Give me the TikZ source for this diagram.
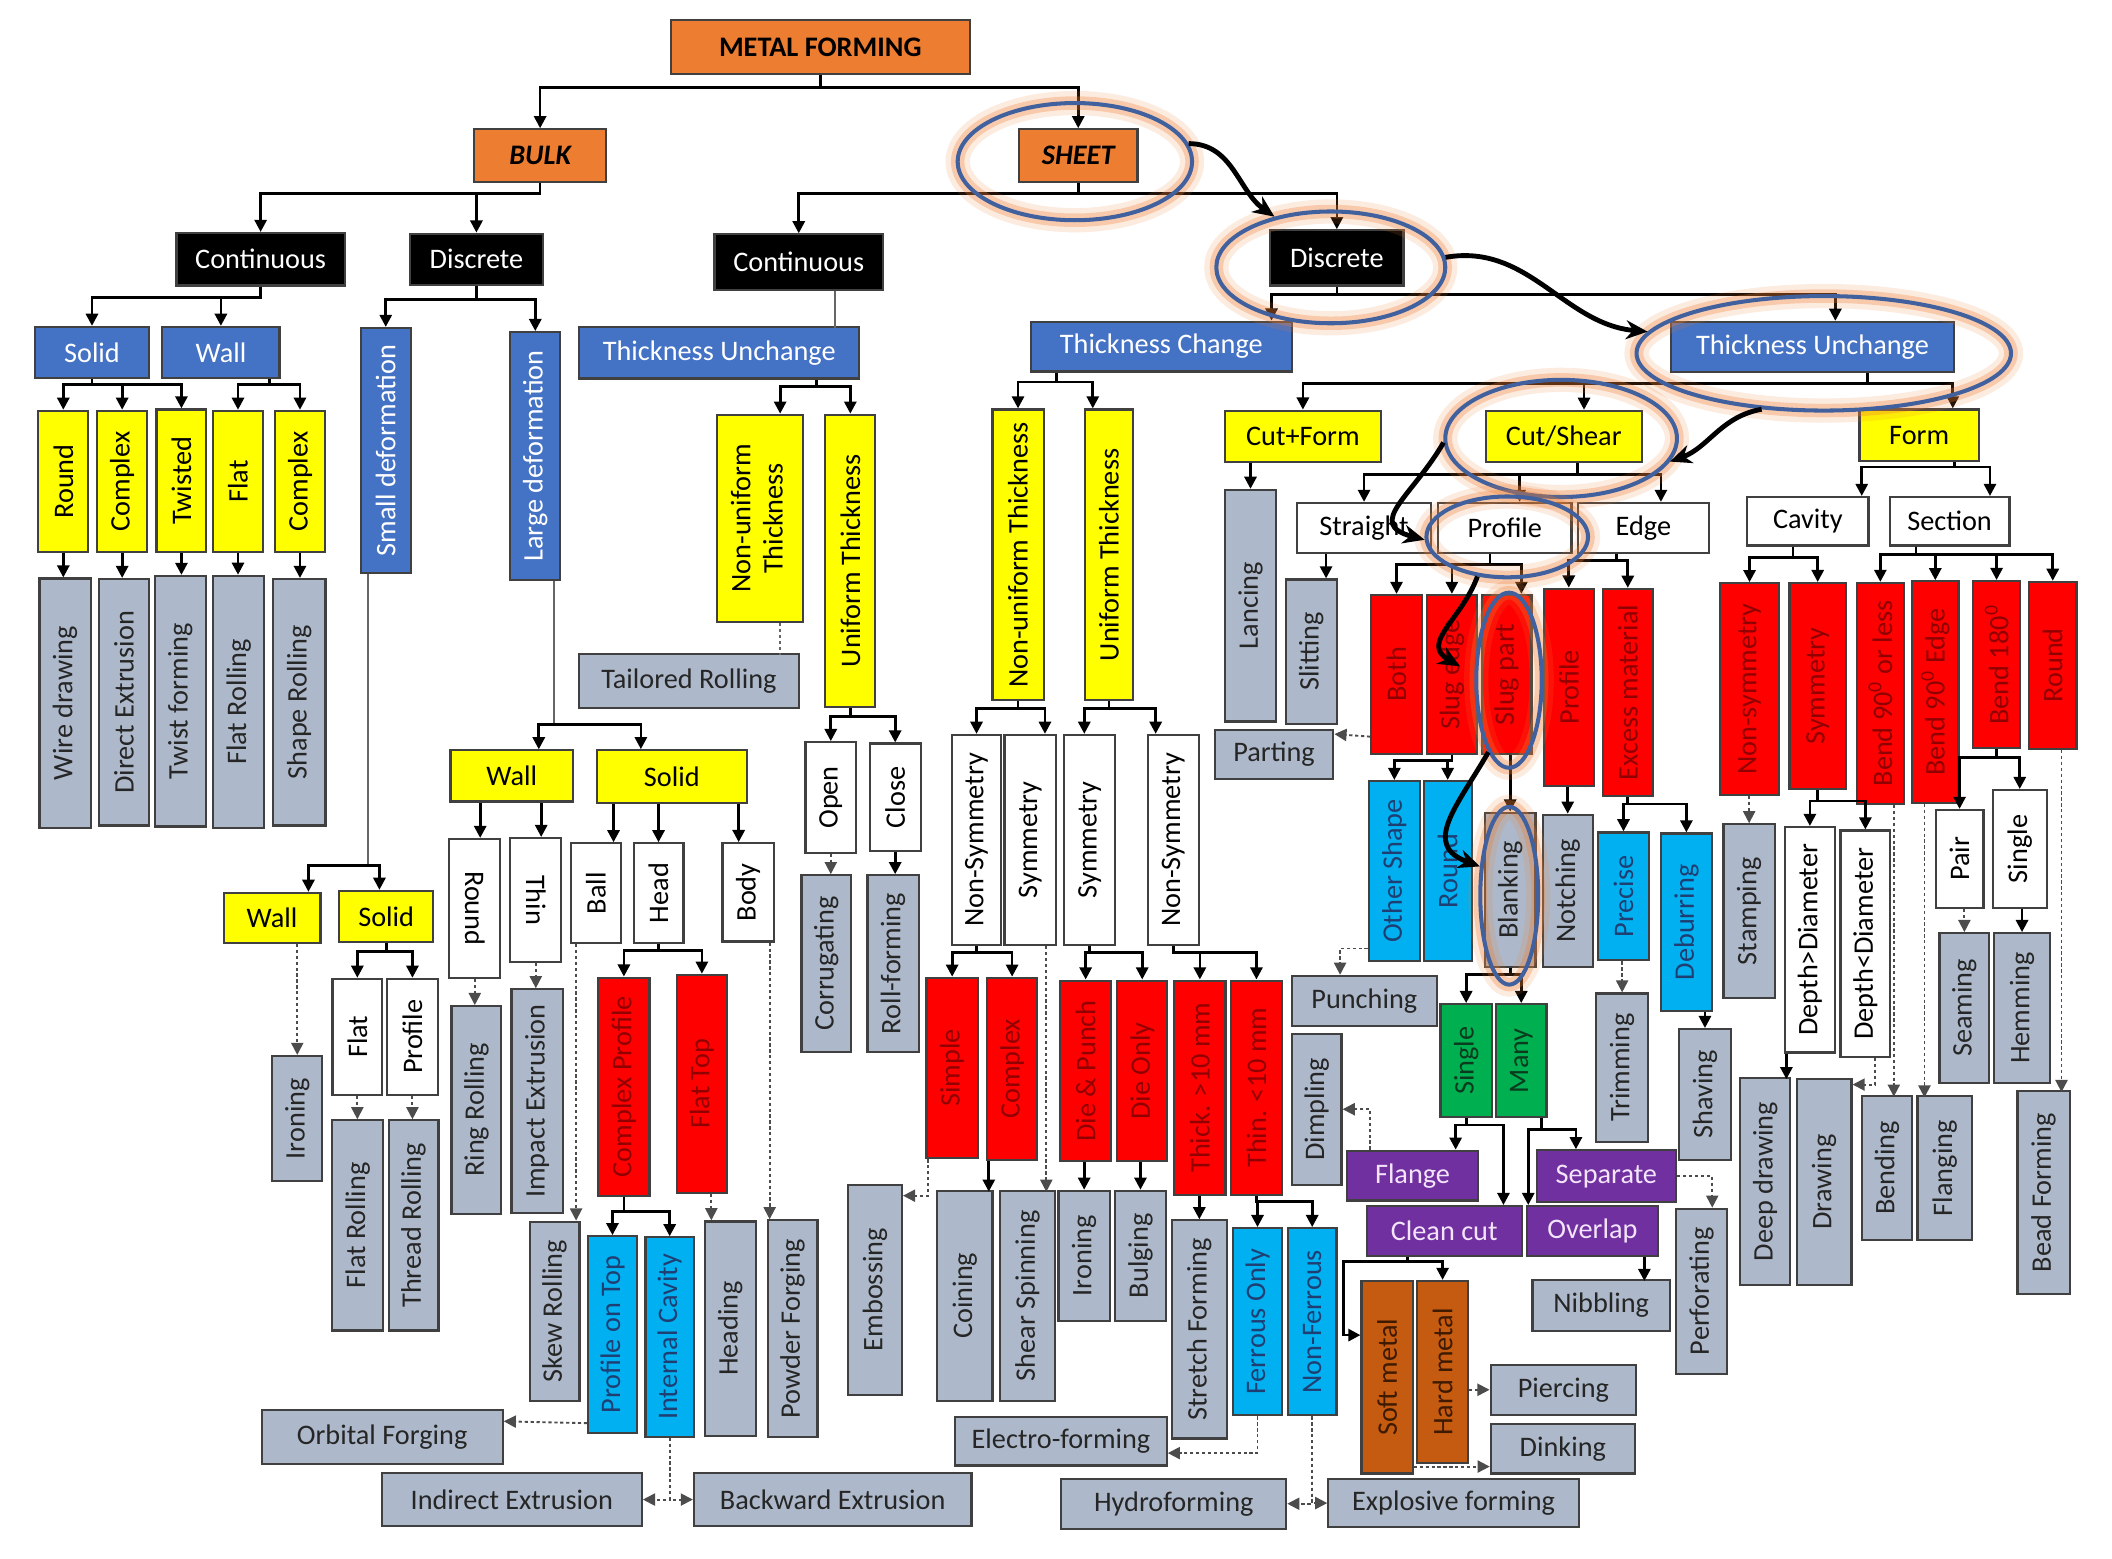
\documentclass[tikz,border=0pt]{standalone}
\usepackage{fontspec}
\setmainfont{Carlito}
\usetikzlibrary{positioning,calc,shapes.geometric,arrows.meta}
\definecolor{orgc}{HTML}{ED7D31}
\definecolor{bluc}{HTML}{4472C4}
\definecolor{yelc}{HTML}{FFFF00}
\definecolor{gryc}{HTML}{ADB9CA}
\definecolor{redc}{HTML}{FF0000}
\definecolor{redt}{HTML}{900000}
\definecolor{cync}{HTML}{00B0F0}
\definecolor{cynt}{HTML}{1F3F73}
\definecolor{grnc}{HTML}{00B050}
\definecolor{grnt}{HTML}{0B3B1E}
\definecolor{purc}{HTML}{7030A0}
\definecolor{purt}{HTML}{F3E4FA}
\definecolor{brnc}{HTML}{C55A11}
\definecolor{brnt}{HTML}{3D1A00}
\definecolor{bordc}{HTML}{404040}
\definecolor{ringc}{HTML}{41609E}
\newcommand\vt[1]{\rotatebox{90}{#1}}
\newcommand\vtd[1]{\rotatebox{-90}{#1}}

\begin{document}
\begin{tikzpicture}[x=0.5pt, y=-0.5pt,
    box/.style={draw=bordc, line width=0.8pt, inner sep=0pt, align=center, font=\fontsize{10.5}{12}\selectfont},
    sz/.style 2 args={minimum width={#1*0.5pt}, minimum height={#2*0.5pt}},
    org/.style={box, fill=orgc, font=\fontsize{10.5}{12}\selectfont\bfseries},
    blk/.style={box, fill=black, text=white},
    blu/.style={box, fill=bluc, text=white},
    ylw/.style={box, fill=yelc},
    gry/.style={box, fill=gryc, text=black!85},
    wht/.style={box, fill=white},
    redb/.style={box, fill=redc, text=redt},
    cyn/.style={box, fill=cync, text=cynt},
    grn/.style={box, fill=grnc, text=grnt},
    pur/.style={box, fill=purc, text=purt},
    brn/.style={box, fill=brnc, text=brnt},
    arr/.style={-{Triangle[length=4.5pt,width=4.5pt]}, line width=1pt},
    dotarr/.style={-{Triangle[length=4.5pt,width=4.5pt]}, line width=0.7pt, draw=black!70, dash pattern=on 1.2pt off 1pt},
    ln/.style={line width=0.7pt, draw=black!60},
    dotln/.style={line width=0.7pt, draw=black!60, dash pattern=on 1.2pt off 1pt},
    ring/.style={ellipse, draw=ringc, line width=1.5pt, inner sep=0pt,
      preaction={draw=orgc, line width=9pt, opacity=0.15},
      preaction={draw=orgc, line width=5pt, opacity=0.3}},
    crv/.style={-{Stealth[length=8pt,width=7pt]}, line width=1.8pt}
  ]
\useasboundingbox (0,0) rectangle (1568,1157);

% top levels
\node[org, sz={222}{40}] (mf) at (609,35) {METAL FORMING};
\node[org, sz={98}{39}] (bulk) at (401,115.5) {\itshape BULK};
\node[org, sz={88}{39}] (sheet) at (800.5,115.5) {\itshape SHEET};
\node[blk, sz={125}{39}] (bcont) at (193.5,192.5) {Continuous};
\node[blk, sz={99}{38}] (bdisc) at (353.7,192.5) {Discrete};
\node[blk, sz={125}{41}] (scont) at (593,194.5) {Continuous};
\node[blk, sz={99}{41}] (sdisc) at (992.5,191.5) {Discrete};

% bulk
\node[blu, sz={85}{38}] (bsolid) at (68.3,261.7) {Solid};
\node[blu, sz={87}{38}] (bwall) at (164,261.7) {Wall};
\node[blu, sz={37}{182}] (sdef) at (286.4,334.5) {\vt{Small deformation}};
\node[blu, sz={37}{184}] (ldef) at (397.4,338.6) {\vt{Large deformation}};
\node[ylw, sz={37}{105}] (yround) at (47,357.5) {\vt{Round}};
\node[ylw, sz={37}{105}] (ycplxa) at (90.7,357.5) {\vt{Complex}};
\node[ylw, sz={37}{106}] (ytwist) at (134.7,357) {\vt{Twisted}};
\node[ylw, sz={37}{105}] (yflat) at (176.7,357.5) {\vt{Flat}};
\node[ylw, sz={37}{105}] (ycplxb) at (222.7,357.5) {\vt{Complex}};
\node[gry, sz={38}{185}] (wire) at (48.3,522) {\vt{Wire drawing}};
\node[gry, sz={37}{183}] (dext) at (92,521.4) {\vt{Direct Extrusion}};
\node[gry, sz={38}{186}] (twf) at (133.8,520.6) {\vt{Twist forming}};
\node[gry, sz={38}{187}] (flatroll) at (177.2,521) {\vt{Flat Rolling}};
\node[gry, sz={39}{183}] (shaperoll) at (222.2,521.4) {\vt{Shape Rolling}};
\node[ylw, sz={72}{37}] (swall) at (202,681.4) {Wall};
\node[ylw, sz={70}{38}] (ssolid) at (286.7,680.4) {Solid};
\node[wht, sz={37}{86}] (sflat) at (265.3,769.7) {\vt{Flat}};
\node[wht, sz={38}{86}] (sprof) at (306.2,769.7) {\vt{Profile}};
\node[gry, sz={37}{93}] (ironb) at (220.7,830.5) {\vt{Ironing}};
\node[gry, sz={38}{156}] (flatrollb) at (265.5,909.8) {\vt{Flat Rolling}};
\node[gry, sz={37}{156}] (threadroll) at (307,909.8) {\vt{Thread Rolling}};
\node[ylw, sz={91}{38}] (lwall) at (380,576.1) {Wall};
\node[ylw, sz={111}{39}] (lsolid) at (498.8,576.5) {Solid};
\node[wht, sz={38}{103}] (lround) at (352.5,674.4) {\vtd{Round}};
\node[wht, sz={38}{92}] (lthin) at (397.8,668.2) {\vtd{Thin}};
\node[gry, sz={37}{154}] (ringroll) at (353.7,824) {\vt{Ring Rolling}};
\node[gry, sz={38}{166}] (impext) at (398.8,817.5) {\vt{Impact Extrusion}};
\node[wht, sz={37}{74}] (ball) at (442.5,663.1) {\vt{Ball}};
\node[wht, sz={37}{74}] (head) at (488.9,663.1) {\vt{Head}};
\node[wht, sz={38}{73}] (body) at (555.4,662.5) {\vt{Body}};
\node[redb, sz={38}{162}] (cprof) at (463.2,806.8) {\vt{Complex Profile}};
\node[redb, sz={37}{162}] (flattop) at (521.1,804.7) {\vt{Flat Top}};
\node[cyn, sz={36}{146}] (ptop) at (454.7,990.8) {\vt{Profile on Top}};
\node[cyn, sz={36}{148}] (icav) at (497.2,992.6) {\vt{Internal Cavity}};
\node[gry, sz={37}{133}] (skew) at (411.7,973.5) {\vt{Skew Rolling}};
\node[gry, sz={38}{159}] (heading) at (542.1,986.3) {\vt{Heading}};
\node[gry, sz={37}{161}] (powder) at (588.4,986.5) {\vt{Powder Forging}};
\node[gry, sz={179}{40}] (orbital) at (283.7,1067) {Orbital Forging};
\node[gry, sz={193}{39.5}] (indext) at (380,1113.3) {Indirect Extrusion};
\node[gry, sz={206}{39.5}] (backext) at (618.2,1113.3) {Backward Extrusion};

% sheet, continuous
\node[blu, sz={208}{38}] (tua) at (534,262) {Thickness Unchange};
\node[ylw, sz={64}{154}] (nua) at (564.2,384.9) {\vt{\begin{tabular}{@{}c@{}}Non-uniform\\Thickness\end{tabular}}};
\node[ylw, sz={37}{217}] (uta) at (631.3,416.4) {\vt{Uniform Thickness}};
\node[gry, sz={163}{40}] (tailored) at (511.5,505.8) {Tailored Rolling};
\node[wht, sz={37.5}{82}] (open) at (616.8,592) {\vt{Open}};
\node[wht, sz={38}{80}] (close) at (664.6,592) {\vt{Close}};
\node[gry, sz={37}{131}] (corr) at (613.5,715.3) {\vt{Corrugating}};
\node[gry, sz={38}{131}] (rollf) at (663,715.3) {\vt{Roll-forming}};

% sheet, discrete, thickness change
\node[blu, sz={194}{37}] (tc) at (862.2,257.3) {Thickness Change};
\node[blu, sz={210}{37}] (tub) at (1345.6,257.5) {Thickness Unchange};
\node[ylw, sz={38}{216}] (nub) at (755.8,412) {\vt{Non-uniform Thickness}};
\node[ylw, sz={36}{216}] (utb) at (823.3,412) {\vt{Uniform Thickness}};
\node[wht, sz={36}{156}] (nsa) at (725,623.6) {\vt{Non-Symmetry}};
\node[wht, sz={38}{156}] (syma) at (764.8,623.6) {\vt{Symmetry}};
\node[wht, sz={38}{156}] (symb) at (809,623.6) {\vt{Symmetry}};
\node[wht, sz={38}{156}] (nsb) at (871,623.6) {\vt{Non-Symmetry}};
\node[redb, sz={38}{134}] (simple) at (706.9,792.9) {\vt{Simple}};
\node[redb, sz={37}{135}] (cplxc) at (751.4,793.4) {\vt{Complex}};
\node[redb, sz={38}{134}] (diep) at (806,795) {\vt{Die \& Punch}};
\node[redb, sz={37}{134}] (dieo) at (848,795) {\vt{Die Only}};
\node[redb, sz={38}{159}] (thk) at (890.8,807.5) {\vt{Thick. >10 mm}};
\node[redb, sz={38}{159}] (thn) at (932.8,807.5) {\vt{Thin. <10 mm}};
\node[gry, sz={40}{156}] (emboss) at (649.6,957.5) {\vt{Embossing}};
\node[gry, sz={41}{156}] (coin) at (716.3,962) {\vt{Coining}};
\node[gry, sz={40.5}{156}] (shearsp) at (762.8,962) {\vt{Shear Spinning}};
\node[gry, sz={38}{96.5}] (ironc) at (804.9,932.3) {\vt{Ironing}};
\node[gry, sz={38}{96.5}] (bulge) at (846.7,932.3) {\vt{Bulging}};
\node[gry, sz={41}{162}] (stretch) at (890.4,987) {\vt{Stretch Forming}};
\node[cyn, sz={36}{139}] (ferrous) at (933.6,981.3) {\vt{Ferrous Only}};
\node[cyn, sz={36}{139}] (nonfer) at (974.2,981.3) {\vt{Non-Ferrous}};
\node[gry, sz={157}{36}] (electro) at (787.7,1070) {Electro-forming};
\node[gry, sz={167}{37}] (hydro) at (871.4,1116.4) {Hydroforming};
\node[gry, sz={186}{36}] (explos) at (1079.2,1115.9) {Explosive forming};

% sheet, discrete, thickness unchange
\node[ylw, sz={115.5}{38}] (cutform) at (967.3,323.9) {Cut+Form};
\node[ylw, sz={116}{38}] (cutshear) at (1161,324) {Cut/Shear};
\node[ylw, sz={88.5}{38}] (form) at (1424.8,323) {Form};
\node[gry, sz={38}{172}] (lancing) at (928.4,449.7) {\vt{Lancing}};
\node[wht, sz={100}{37}] (straight) at (1012.7,391.9) {Straight};
\node[wht, sz={99}{37}] (profile) at (1117.2,391.9) {Profile};
\node[wht, sz={97}{37}] (edgeb) at (1220.1,391.9) {Edge};
\node[gry, sz={38}{107}] (slitting) at (973.5,483.7) {\vt{Slitting}};
\node[redb, sz={37.5}{118}] (both) at (1036.8,500.7) {\vt{Both}};
\node[redb, sz={37}{118}] (sedge) at (1077.9,500.7) {\vt{Slug edge}};
\node[redb, sz={37}{118}] (spart) at (1118.5,500.7) {\vt{Slug part}};
\node[redb, sz={37.4}{146.5}] (rprof) at (1164.7,510.3) {\vt{Profile}};
\node[redb, sz={37}{154}] (excess) at (1208.5,514.2) {\vt{Excess material}};
\node[gry, sz={88}{36}] (parting) at (945.9,560.2) {Parting};
\node[cyn, sz={38}{133.5}] (oshape) at (1035.2,646.6) {\vt{Other Shape}};
\node[cyn, sz={35.5}{133.5}] (cround) at (1074.8,646.6) {\vt{Round}};
\node[gry, sz={37.6}{114.4}] (blank) at (1121.2,660.5) {\vt{Blanking}};
\node[gry, sz={37}{113}] (notch) at (1163.9,661.4) {\vt{Notching}};
\node[cyn, sz={37.5}{95}] (precise) at (1205.3,665.5) {\vt{Precise}};
\node[cyn, sz={38}{132}] (deburr) at (1252,684.8) {\vt{Deburring}};
\node[gry, sz={38.6}{110}] (trim) at (1204.3,792.6) {\vt{Trimming}};
\node[gry, sz={38.5}{97}] (shave) at (1265.8,812.5) {\vt{Shaving}};
\node[gry, sz={108}{37}] (punch) at (1012.9,743) {Punching};
\node[gry, sz={37}{112}] (dimple) at (977.5,823.5) {\vt{Dimpling}};
\node[grn, sz={38}{84}] (single) at (1088.5,787.5) {\vt{Single}};
\node[grn, sz={37.6}{84}] (many) at (1129.4,787.5) {\vt{Many}};
\node[pur, sz={97}{37}] (flange) at (1048.7,872.8) {Flange};
\node[pur, sz={103.5}{38.6}] (separate) at (1192.6,873.3) {Separate};
\node[pur, sz={115}{37}] (cleancut) at (1072.2,913.9) {Clean cut};
\node[pur, sz={97.6}{37}] (overlap) at (1182.2,913.9) {Overlap};
\node[gry, sz={37.7}{122.6}] (perfor) at (1263.2,958.7) {\vt{Perforating}};
\node[gry, sz={102}{37.7}] (nibble) at (1188.8,969.2) {Nibbling};
\node[brn, sz={38}{143}] (softm) at (1029.8,1022.5) {\vt{Soft metal}};
\node[brn, sz={38}{135}] (hardm) at (1071,1018.5) {\vt{Hard metal}};
\node[gry, sz={108}{37}] (pierce) at (1160.7,1031.8) {Piercing};
\node[gry, sz={107}{37}] (dink) at (1160.3,1075.5) {Dinking};

% form
\node[wht, sz={90}{36}] (cavity) at (1342.2,387) {Cavity};
\node[wht, sz={89}{36}] (section) at (1447.4,387) {Section};
\node[redb, sz={44}{157}] (nsc) at (1298.9,511.5) {\vt{Non-symmetry}};
\node[redb, sz={42}{153}] (symc) at (1349.5,509.4) {\vt{Symmetry}};
\node[redb, sz={35}{164}] (bendl) at (1396,514.8) {\vt{Bend 90\textsuperscript{0} or less}};
\node[redb, sz={34.5}{164.5}] (bende) at (1436.8,513.8) {\vt{Bend 90\textsuperscript{0} Edge}};
\node[redb, sz={34.5}{124}] (bendh) at (1482.3,493.4) {\vt{Bend 180\textsuperscript{0}}};
\node[redb, sz={35.3}{124}] (fround) at (1524,494) {\vt{Round}};
\node[gry, sz={38}{129}] (stamp) at (1298.6,676.5) {\vt{Stamping}};
\node[wht, sz={37.3}{167.4}] (dgt) at (1343.7,697.7) {\vt{Depth>Diameter}};
\node[wht, sz={37}{168}] (dlt) at (1384.9,700.6) {\vt{Depth<Diameter}};
\node[wht, sz={35.5}{72.7}] (pair) at (1454.8,637.7) {\vt{Pair}};
\node[wht, sz={40}{87.5}] (fsingle) at (1499.5,630.3) {\vt{Single}};
\node[gry, sz={37}{111}] (seam) at (1458.4,748.3) {\vt{Seaming}};
\node[gry, sz={41.6}{111}] (hem) at (1501.2,748.3) {\vt{Hemming}};
\node[gry, sz={37}{154}] (deepd) at (1310.5,877.2) {\vt{Deep drawing}};
\node[gry, sz={40.6}{153}] (drawg) at (1354.3,877.5) {\vt{Drawing}};
\node[gry, sz={37}{107}] (bendg) at (1400.9,867) {\vt{Bending}};
\node[gry, sz={40.4}{107}] (flangg) at (1443.8,867.3) {\vt{Flanging}};
\node[gry, sz={38.7}{151}] (bead) at (1517.2,885.4) {\vt{Bead Forming}};

% connectors, top
\draw[arr] (mf.south) -- ++(0,9) -| (bulk.north);
\draw[arr] (mf.south) -- ++(0,9) -| (sheet.north);
\draw[arr] (bulk.south) -- ++(0,8) -| (bcont.north);
\draw[arr] (bulk.south) -- ++(0,8) -| (bdisc.north);
\draw[arr] (sheet.south) -- ++(0,8) -| (scont.north);
\draw[arr] (sheet.south) -- ++(0,8) -| (sdisc.north);

% connectors, bulk
\draw[arr] (bcont.south) -- ++(0,8) -| (bsolid.north);
\draw[arr] (bcont.south) -- ++(0,8) -| (bwall.north);
\draw[arr] (bdisc.south) -- ++(0,10) -| (sdef.north);
\draw[arr] (bdisc.south) -- ++(0,10) -| (ldef.north);
\foreach \k in {yround,ycplxa,ytwist} \draw[arr] (bsolid.south) -- ++(0,4) -| (\k.north);
\foreach \k in {yflat,ycplxb} \draw[arr] ($(bwall.south)+(36,0)$) -- ++(0,4) -| (\k.north);
\foreach \a/\b in {yround/wire,ycplxa/dext,ytwist/twf,yflat/flatroll,ycplxb/shaperoll}
  \draw[arr] (\a.south) -- (\a.south |- \b.north);
\draw[ln] ($(sdef.south)+(-13,0)$) -- ++(0,216) coordinate (sdbus);
\draw[arr] (sdbus) -| ($(swall.north)+(27,0)$);
\draw[arr] (sdbus) -| ($(ssolid.north)+(-5,0)$);
\draw[dotarr] (swall.south -| ironb.north) -- (ironb.north);
\draw[arr] (ssolid.south) -- ++(0,6) -| (sflat.north);
\draw[arr] (ssolid.south) -- ++(0,6) -| (sprof.north);
\draw[dotarr] (sflat.south) -- (sflat.south |- flatrollb.north);
\draw[dotarr] (sprof.south) -- (sprof.south |- threadroll.north);
\draw[ln] ($(ldef.south)+(14,0)$) -- ++(0,106.5) coordinate (ldbus);
\draw[arr] (ldbus) -| ($(lwall.north)+(20,0)$);
\draw[arr] (ldbus) -| ($(lsolid.north)+(-23,0)$);
\draw[arr] ($(lwall.south -| lround.north)+(4,0)$) -- ($(lround.north)+(4,0)$);
\draw[arr] ($(lwall.south -| lthin.north)+(4,0)$) -- ($(lthin.north)+(4,0)$);
\draw[dotarr] (lround.south) -- (lround.south |- ringroll.north);
\draw[dotarr] (lthin.south) -- (lthin.south |- impext.north);
\draw[arr] ($(lsolid.south -| ball.north)+(13,0)$) -- ($(ball.north)+(13,0)$);
\draw[arr] (lsolid.south -| head.north) -- (head.north);
\draw[arr] ($(lsolid.south -| body.north)+(-7,0)$) -- ($(body.north)+(-7,0)$);
\draw[arr] (head.south) -- ++(0,5) -| (cprof.north);
\draw[arr] (head.south) -- ++(0,5) -| (flattop.north);
\draw[arr] (cprof.south) -- ++(0,11) -| (ptop.north);
\draw[arr] (cprof.south) -- ++(0,11) -| (icav.north);
\draw[dotarr] ($(ball.south -| skew.north)+(16,0)$) -- ($(skew.north)+(16,0)$);
\draw[dotarr] ($(flattop.south -| heading.north)+(-14,0)$) -- ($(heading.north)+(-14,0)$);
\draw[dotarr] ($(body.south -| powder.north)+(-17,0)$) -- ($(powder.north)+(-17,0)$);
\draw[dotarr] ($(ptop.south west)+(0,-8)$) -- ($(orbital.north east)+(0,9)$);
\draw[dotarr] (icav.south) |- (indext.east);
\draw[dotarr] (icav.south) |- (backext.west);

% connectors, sheet continuous
\draw[ln] ($(scont.south)+(27,0)$) -- ++(0,28);
\draw[arr] ($(tua.south)+(72,0)$) -- ++(0,5) -| ($(nua.north)+(15,0)$);
\draw[arr] ($(tua.south)+(72,0)$) -- ++(0,5) -| (uta.north);
\draw[dotln] ($(nua.south)+(15,0)$) -- ++(0,23.6);
\draw[arr] (uta.south) -- ++(0,6) -| (open.north);
\draw[arr] (uta.south) -- ++(0,6) -| (close.north);
\draw[dotarr] (open.south) -- (open.south |- corr.north);
\draw[arr] (close.south) -- (close.south |- rollf.north);

% connectors, thickness change
\draw[arr] (sdisc.south) -- ++(0,6) -| ($(tc.north east)+(-16,0)$);
\draw[arr] (sdisc.south) -- ++(0,6) -| ($(tub.north)+(17,0)$);
\draw[arr] ($(tc.south west)+(20,0)$) -- ++(0,7) -| (nub.north);
\draw[arr] ($(tc.south west)+(20,0)$) -- ++(0,7) -| ($(utb.north)+(-12,0)$);
\draw[arr] (nub.south) -- ++(0,5) -| (nsa.north);
\draw[arr] (nub.south) -- ++(0,5) -| ($(syma.north)+(11,0)$);
\draw[arr] (utb.south) -- ++(0,5) -| ($(symb.north)+(-4,0)$);
\draw[arr] (utb.south) -- ++(0,5) -| ($(nsb.north)+(-13,0)$);
\draw[arr] (nsa.south) -- ++(0,5) -| (simple.north);
\draw[arr] (nsa.south) -- ++(0,5) -| (cplxc.north);
\draw[arr] (symb.south) -- ++(0,5) -| (diep.north);
\draw[arr] (symb.south) -- ++(0,5) -| (dieo.north);
\draw[arr] (nsb.south) -- ++(0,5) -| (thk.north);
\draw[arr] (nsb.south) -- ++(0,5) -| (thn.north);
\draw[dotarr] ($(syma.south)+(12,0)$) -- ++(0,182.4);
\draw[dotarr] ($(simple.south west)+(2,0)$) |- ($(emboss.north east)+(0,9)$);
\draw[arr] ($(cplxc.south west)+(2,0)$) -- ++(0,23);
\draw[arr] (diep.south -| ironc.north) -- (ironc.north);
\draw[arr] (dieo.south -| bulge.north) -- (bulge.north);
\draw[arr] (thk.south -| stretch.north) -- (stretch.north);
\draw[arr] (thn.south) -- ++(0,4) -| (ferrous.north);
\draw[arr] (thn.south) -- ++(0,4) -| (nonfer.north);
\draw[dotarr] (ferrous.south) |- ($(electro.south east)+(0,-10)$);
\draw[dotarr] (nonfer.south) |- (hydro.east);
\draw[dotarr] (nonfer.south) |- (explos.west);

% connectors, thickness unchange
\draw[arr] ($(tub.south)+(41,0)$) -- ++(0,8) -| (cutform.north);
\draw[arr] ($(tub.south)+(41,0)$) -- ++(0,8) -| ($(cutshear.north)+(15,0)$);
\draw[arr] ($(tub.south)+(41,0)$) -- ++(0,8) -| ($(form.north)+(25,0)$);
\draw[arr] (cutform.south -| lancing.north) -- (lancing.north);
\draw[arr] ($(cutshear.south)+(10,0)$) -- ++(0,8.6) -| (straight.north);
\draw[arr] ($(cutshear.south)+(10,0)$) -- ++(0,8.6) -| ($(profile.north)+(11,0)$);
\draw[arr] ($(cutshear.south)+(10,0)$) -- ++(0,8.6) -| ($(edgeb.north)+(13,0)$);
\draw[arr] ($(straight.south -| slitting.north)+(11,0)$) -- ($(slitting.north)+(11,0)$);
\draw[arr] ($(profile.south)+(-11,0)$) -- ++(0,8) -| (both.north);
\draw[arr] ($(profile.south)+(-11,0)$) -- ++(0,8) -| (sedge.north);
\draw[arr] ($(profile.south)+(-11,0)$) -- ++(0,8) -| ($(spart.north)+(11,0)$);
\draw[arr] ($(edgeb.south)+(-20,0)$) -- ++(0,5) -| (rprof.north);
\draw[arr] ($(edgeb.south)+(-20,0)$) -- ++(0,5) -| (excess.north);
\draw[dotarr] ($(both.south west)+(0,-13.6)$) -- ($(parting.north east)+(0,3.6)$);
\draw[arr] (sedge.south) -- ++(0,4) -| (oshape.north);
\draw[arr] (sedge.south) -- ++(0,4) -| (cround.north);
\draw[arr] (spart.south -| blank.north) -- (blank.north);
\draw[arr] (rprof.south -| notch.north) -- (notch.north);
\draw[arr] (excess.south) -- ++(0,5) -| (precise.north);
\draw[arr] (excess.south) -- ++(0,5) -| (deburr.north);
\draw[dotarr] (precise.south -| trim.north) -- (trim.north);
\draw[arr] (deburr.south -| shave.north) -- (shave.north);
\draw[dotarr] ($(oshape.south west)+(0,-10)$) -| ($(punch.north)+(-18,0)$);
\draw[arr] (blank.south) -- ++(0,5) -| (single.north);
\draw[arr] (blank.south) -- ++(0,5) -| (many.north);
\draw[dotarr] ($(flange.north west)+(18,0)$) |- (dimple.east);
\draw[arr] (single.south) -- ++(0,5) -| ($(flange.north)+(32,0)$);
\draw[arr] (single.south) -- ++(0,5) -| ($(cleancut.north)+(44,0)$);
\draw[arr] ($(many.south)+(15,0)$) -- ++(0,8.4) -| ($(separate.north)+(-22.6,0)$);
\draw[arr] ($(many.south)+(15,0)$) -- ++(0,8.4) -| ($(overlap.north west)+(2,0)$);
\draw[dotarr] (separate.east) -| ($(perfor.north)+(8,0)$);
\draw[arr] ($(overlap.south east)+(-11,0)$) -- ++(0,17.8);
\draw[arr] ($(cleancut.south)+(-27,0)$) -- ++(0,3.5) -| (hardm.north);
\draw[arr] ($(cleancut.south)+(-27,0)$) -- ++(0,3.5) -- ++(-48,0) |- ($(softm.north west)+(0,41)$);
\draw[dotarr] (hardm.east |- pierce.west) -- (pierce.west);
\draw[dotarr] ($(softm.south east)+(0,-6)$) -- ($(dink.south west)+(0,-6)$);

% connectors, form
\draw[arr] ($(form.south)+(26,0)$) -- ++(0,4) -| ($(cavity.north)+(40,0)$);
\draw[arr] ($(form.south)+(26,0)$) -- ++(0,4) -| ($(section.north)+(30,0)$);
\draw[arr] ($(cavity.south)+(-11,0)$) -- ++(0,8) -| (nsc.north);
\draw[arr] ($(cavity.south)+(-11,0)$) -- ++(0,8) -| (symc.north);
\foreach \k in {bendl,bende,bendh,fround} \draw[arr] ($(section.south)+(-25,0)$) -- ++(0,6) -| (\k.north);
\draw[dotarr] (nsc.south -| stamp.north) -- (stamp.north);
\draw[arr] (symc.south) -- ++(0,8) -| (dgt.north);
\draw[arr] (symc.south) -- ++(0,8) -| (dlt.north);
\draw[arr] ($(dgt.south west)+(2,0)$) -- ++(0,19);
\draw[dotarr] ($(dlt.south)+(7,0)$) |- ($(drawg.north east)+(0,5)$);
\draw[dotarr] ($(bendl.south)+(10,0)$) -- ++(0,216.6);
\draw[dotarr] ($(bende.south west)+(10,0)$) -- ++(0,218);
\draw[arr] (bendh.south) -- ++(0,6) -| (pair.north);
\draw[arr] (bendh.south) -- ++(0,6) -| (fsingle.north);
\draw[dotarr] (pair.south -| seam.north) -- (seam.north);
\draw[arr] (fsingle.south -| hem.north) -- (hem.north);
\draw[dotarr] ($(fround.south)+(6.5,0)$) -- ++(0,254);

% highlighted path
\node[ring, sz={174}{87}] (rsheet) at (798,120) {};
\node[ring, sz={170}{83}] (rdisc) at (988,198.5) {};
\node[ring, sz={278}{85}] (rtu) at (1354,262.3) {};
\node[ring, sz={172}{87}] (rcs) at (1159,325.5) {};
\node[ring, sz={120}{60}] (rprf) at (1119,398.6) {};
\node[ring, sz={48.6}{130}] (rspart) at (1120.3,505) {};
\node[ring, sz={43}{132}] (rblank) at (1120.5,665) {};
\draw[crv] (rsheet.9) to[out=0,in=145] (rdisc.138);
\draw[crv] (rdisc.5) to[out=10,in=175] (rtu.173);
\draw[crv] (rtu.222) to[out=190,in=20] (rcs.348);
\draw[crv] (rcs.182) to[out=240,in=165,looseness=1.6] (rprf.182);
\draw[crv] (rprf.233) to[out=250,in=150,looseness=1.3] ($(sedge.center)+(6,-6)$);
\draw[crv] (rspart.254) to[out=240,in=160,looseness=1.4] (rblank.135);
\end{tikzpicture}
\end{document}
